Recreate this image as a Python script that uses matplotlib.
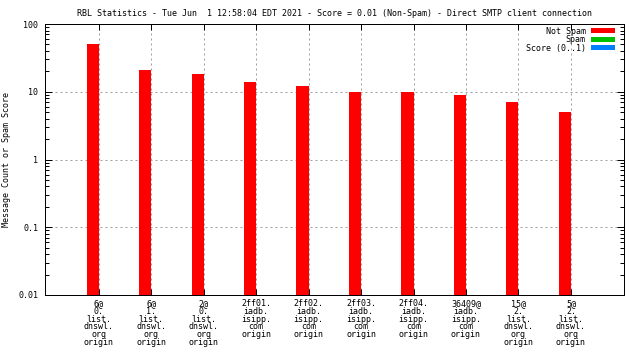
import matplotlib
matplotlib.use("Agg")
import matplotlib.pyplot as plt
from matplotlib.patches import Patch
import matplotlib.ticker as mticker
import numpy as np

plt.rcParams['lines.scale_dashes'] = False
plt.rcParams['font.family'] = ['DejaVu Sans Mono']

categories = ["6@\n0.\nlist.\ndnswl.\norg\norigin",
              "6@\n1.\nlist.\ndnswl.\norg\norigin",
              "2@\n0.\nlist.\ndnswl.\norg\norigin",
              "2ff01.\niadb.\nisipp.\ncom\norigin",
              "2ff02.\niadb.\nisipp.\ncom\norigin",
              "2ff03.\niadb.\nisipp.\ncom\norigin",
              "2ff04.\niadb.\nisipp.\ncom\norigin",
              "36409@\niadb.\nisipp.\ncom\norigin",
              "15@\n2.\nlist.\ndnswl.\norg\norigin",
              "5@\n2.\nlist.\ndnswl.\norg\norigin"]
not_spam = [51, 21, 18, 14, 12, 10, 10, 9, 7, 5]
spam = [0, 0, 0, 0, 0, 0, 0, 0, 0, 0]
score = [0, 0, 0, 0, 0, 0, 0, 0, 0, 0]
ytick_vals = [0.01, 0.1, 1, 10, 100]
ytick_labels = ["0.01", "0.1", "1", "10", "100"]
series_names = ["Not Spam", "Spam", "Score (0..1)"]
series_colors = ["#ff0000", "#00c000", "#0080ff"]

W, H = 640, 360
fig = plt.figure(figsize=(6.4, 3.6), dpi=100)
L, R, T, B = 45, 624, 24, 295
ax = fig.add_axes([L / W, 1 - B / H, (R - L) / W, (B - T) / H])

x = np.arange(len(categories))
bw = 0.229
for k, vals in enumerate([not_spam, spam, score]):
    v = np.array(vals, dtype=float)
    m = v > 0
    if m.any():
        ax.bar(x[m] + k * bw, v[m], width=-bw,
               align='edge', color=series_colors[k], zorder=2, bottom=0.001)

ax.set_yscale('log')
ax.set_ylim(0.01, 100)
ax.set_xlim(-1.02, 10.01)
ax.set_yticks(ytick_vals)
ax.set_yticklabels(ytick_labels)
ax.yaxis.set_minor_locator(mticker.LogLocator(base=10, subs=np.arange(2, 10)))
ax.yaxis.set_minor_formatter(mticker.NullFormatter())
ax.set_xticks(x)
ax.set_xticklabels(categories, linespacing=0.82, fontsize=6)

ax.tick_params(axis='both', which='both', direction='in', top=True, right=True,
               labelsize=6, width=0.72, colors='black')
ax.tick_params(axis='y', which='major', length=5, pad=5)
ax.tick_params(axis='y', which='minor', length=3)
ax.tick_params(axis='x', which='major', length=4, pad=3)

ax.set_axisbelow(True)
ax.grid(True, which='major', color='#a0a0a0', linestyle=(0, (1.44, 2.16)), linewidth=0.72)
for s in ax.spines.values():
    s.set_linewidth(0.72)
    s.set_color('black')

ax.set_ylabel("Message Count or Spam Score", fontsize=6)
ax.yaxis.set_label_coords(-(L - 11) / (R - L), 0.5)

fig.text((L + R) / 2 / W, 1 - 13 / H,
         "RBL Statistics - Tue Jun  1 12:58:04 EDT 2021 - Score = 0.01 (Non-Spam) - Direct SMTP client connection",
         ha='center', va='center', fontsize=6)

handles = [Patch(facecolor=c, edgecolor='none') for c in series_colors]
leg = ax.legend(handles, series_names, loc='upper right',
                bbox_to_anchor=(615 / W, 1 - 26.5 / H), bbox_transform=fig.transFigure,
                frameon=False, markerfirst=False, fontsize=6, borderpad=0,
                borderaxespad=0, handlelength=2.9, handleheight=0.5,
                handletextpad=0.6, labelspacing=-0.05)

fig.savefig("out.png", dpi=100)
